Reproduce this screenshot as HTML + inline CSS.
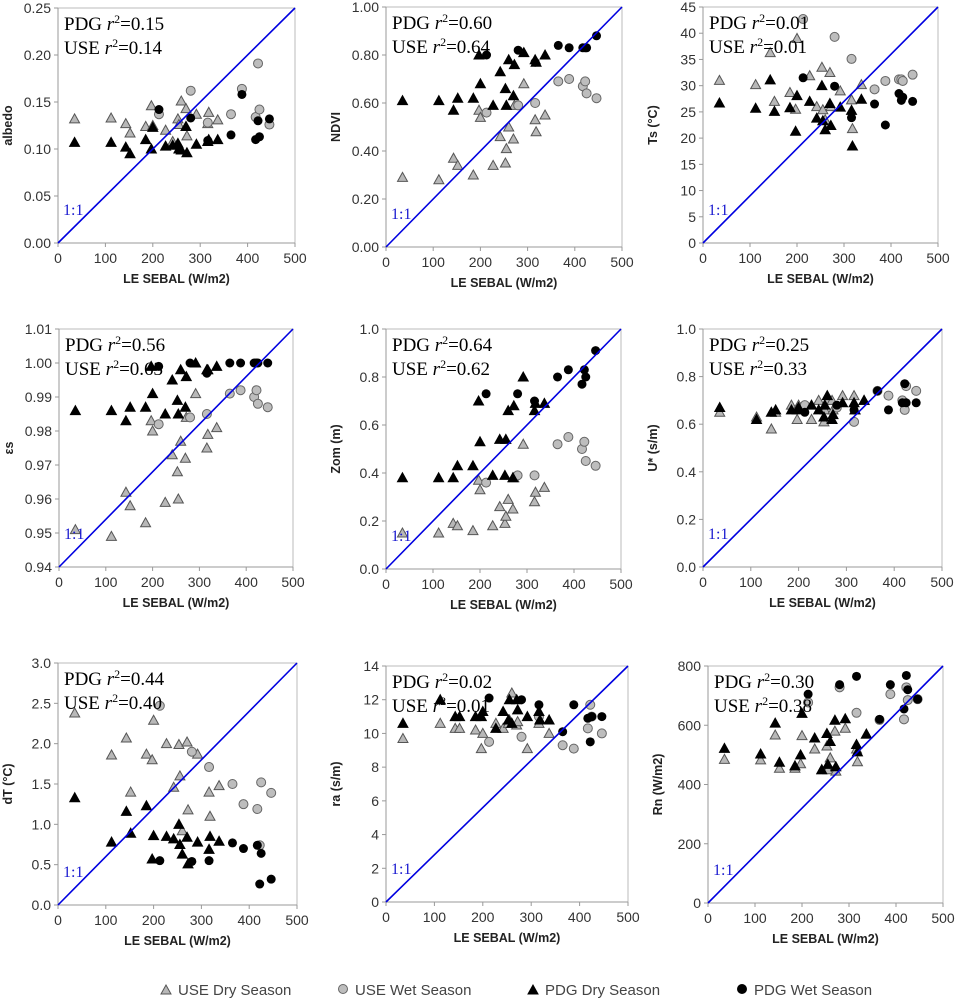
<!DOCTYPE html>
<html><head><meta charset="utf-8"><style>
body{margin:0;background:#fff;width:958px;height:1000px;overflow:hidden}
svg{display:block}
text{font-family:"Liberation Sans",sans-serif}
text.serif{font-family:"Liberation Serif",serif}
</style></head><body>
<svg id="fig" width="958" height="1000" viewBox="0 0 958 1000"></svg>
<script>
// Shared x (LE SEBAL) values
const xDry = [35,112,143,152,185,197,200,227,242,253,255,260,270,272,292,316,318,337];
const xWet = [213,280,316,365,388,417,422,425,446];
const xTicks = [0,100,200,300,400,500];

const albUseDry=[0.132,0.133,0.127,0.117,0.124,0.146,0.125,0.120,0.108,0.132,0.126,0.151,0.143,0.114,0.137,0.127,0.139,0.131];
const albUseWet=[0.137,0.162,0.128,0.137,0.164,0.134,0.191,0.142,0.126];
const albPdgDry=[0.107,0.107,0.102,0.095,0.110,0.100,0.123,0.103,0.104,0.106,0.100,0.099,0.124,0.096,0.105,0.108,0.110,0.110];
const albPdgWet=[0.142,0.133,0.109,0.115,0.158,0.110,0.130,0.113,0.132];

const ndviUseDry=[0.29,0.28,0.37,0.34,0.30,0.57,0.54,0.34,0.46,0.35,0.41,0.50,0.45,0.59,0.68,0.53,0.48,0.55];
const ndviUseWet=[0.56,0.59,0.60,0.69,0.70,0.67,0.69,0.64,0.62];
const ndviPdgDry=[0.61,0.61,0.57,0.62,0.62,0.80,0.68,0.59,0.73,0.66,0.59,0.78,0.63,0.76,0.81,0.78,0.77,0.80];
const ndviPdgWet=[0.80,0.82,0.77,0.84,0.83,0.83,0.83,0.83,0.88];

const tsUseDry=[31,30.2,36.3,27,28.7,25.5,39,31.9,26,33.5,25.4,23.5,32.5,26,29,27.3,21.8,30.2];
const tsUseWet=[42.7,39.3,35.1,29.3,30.9,31.2,31.2,30.9,32.1];
const tsPdgDry=[26.7,25.7,31.1,25.1,25.8,21.3,28.1,27,23.8,30,23.3,21.6,26.6,22.4,25.9,25.3,18.5,27.4];
const tsPdgWet=[31.5,29.9,23.9,26.5,22.5,28.5,27.2,27.8,27];

const esUseDry=[0.951,0.949,0.962,0.958,0.953,0.983,0.980,0.959,0.973,0.968,0.960,0.977,0.972,0.984,0.991,0.975,0.979,0.981];
const esUseWet=[0.982,0.984,0.985,0.991,0.992,0.990,0.992,0.988,0.987];
const esPdgDry=[0.986,0.986,0.983,0.987,0.987,0.999,0.991,0.985,0.995,0.989,0.985,0.998,0.987,0.996,1.0,0.998,0.998,0.999];
const esPdgWet=[0.999,1.0,0.997,1.0,1.0,1.0,1.0,1.0,1.0];

const zomUseDry=[0.15,0.15,0.19,0.18,0.16,0.37,0.33,0.18,0.26,0.19,0.22,0.29,0.25,0.38,0.52,0.28,0.32,0.34];
const zomUseWet=[0.36,0.39,0.39,0.52,0.55,0.50,0.53,0.45,0.43];
const zomPdgDry=[0.38,0.38,0.38,0.43,0.43,0.70,0.53,0.39,0.54,0.39,0.54,0.66,0.38,0.68,0.80,0.66,0.69,0.69];
const zomPdgWet=[0.73,0.73,0.70,0.80,0.83,0.77,0.83,0.80,0.91];

const uUseDry=[0.65,0.63,0.58,0.65,0.68,0.62,0.68,0.62,0.70,0.61,0.66,0.70,0.70,0.66,0.72,0.72,0.66,0.70];
const uUseWet=[0.68,0.67,0.61,0.74,0.72,0.70,0.66,0.76,0.74];
const uPdgDry=[0.67,0.62,0.65,0.66,0.66,0.66,0.67,0.68,0.66,0.63,0.68,0.72,0.62,0.64,0.69,0.69,0.66,0.70];
const uPdgWet=[0.65,0.68,0.66,0.74,0.66,0.69,0.77,0.69,0.69];

const dtUseDry=[2.38,1.86,2.07,1.40,1.87,1.80,2.29,2.0,1.46,1.99,1.60,0.92,2.02,1.18,1.87,1.40,1.10,1.48];
const dtUseWet=[2.47,1.90,1.71,1.50,1.25,1.19,0.74,1.52,1.39];
const dtPdgDry=[1.33,0.78,1.16,0.89,1.23,0.57,0.86,0.85,0.82,1.0,0.75,0.63,0.84,0.51,0.78,0.69,0.85,0.79];
const dtPdgWet=[0.55,0.54,0.55,0.77,0.70,0.74,0.26,0.64,0.32];

const raUseDry=[9.7,10.6,10.3,10.3,10.2,9.1,10.0,10.6,10.3,10.6,10.8,12.4,10.5,10.7,9.1,10.6,10.8,10.0];
const raUseWet=[9.5,9.8,11.0,9.3,9.1,10.3,11.7,11.0,10.0];
const raPdgDry=[10.6,12.0,11.0,11.0,11.0,11.0,11.3,10.3,11.3,10.8,12.0,10.6,12.0,11.4,11.0,11.3,10.8,10.8];
const raPdgWet=[12.1,12.0,11.7,10.1,11.7,10.9,9.5,11.0,11.0];

const rnUseDry=[485,483,567,455,455,470,565,520,450,530,450,490,580,445,590,520,477,570];
const rnUseWet=[677,728,642,618,705,620,728,685,688];
const rnPdgDry=[522,503,607,475,463,500,640,557,450,572,468,545,617,460,622,535,510,570];
const rnPdgWet=[705,737,765,620,737,655,768,720,688];

const panels=[
 {id:'albedo',yt:'albedo',ymin:0,ymax:0.25,step:0.05,dec:2,r:[58,295,8,243],p:'0.15',u:'0.14',s:[albUseDry,albUseWet,albPdgDry,albPdgWet]},
 {id:'ndvi',yt:'NDVI',ymin:0,ymax:1,step:0.2,dec:2,r:[386,622,7,247],p:'0.60',u:'0.64',s:[ndviUseDry,ndviUseWet,ndviPdgDry,ndviPdgWet]},
 {id:'ts',yt:'Ts (°C)',ymin:0,ymax:45,step:5,dec:0,r:[703,938,7,243],p:'0.01',u:'0.01',s:[tsUseDry,tsUseWet,tsPdgDry,tsPdgWet]},
 {id:'es',yt:'εs',ymin:0.94,ymax:1.01,step:0.01,dec:2,r:[59,293,329,567],p:'0.56',u:'0.63',s:[esUseDry,esUseWet,esPdgDry,esPdgWet]},
 {id:'zom',yt:'Zom (m)',ymin:0,ymax:1,step:0.2,dec:1,r:[386,621,329,569],p:'0.64',u:'0.62',s:[zomUseDry,zomUseWet,zomPdgDry,zomPdgWet]},
 {id:'ustar',yt:'U* (s/m)',ymin:0,ymax:1,step:0.2,dec:1,r:[703,942,329,567],p:'0.25',u:'0.33',s:[uUseDry,uUseWet,uPdgDry,uPdgWet]},
 {id:'dt',yt:'dT (°C)',ymin:0,ymax:3,step:0.5,dec:1,r:[58,297,663,905],p:'0.44',u:'0.40',s:[dtUseDry,dtUseWet,dtPdgDry,dtPdgWet]},
 {id:'ra',yt:'ra (s/m)',ymin:0,ymax:14,step:2,dec:0,r:[386,628,666,902],p:'0.02',u:'0.01',s:[raUseDry,raUseWet,raPdgDry,raPdgWet]},
 {id:'rn',yt:'Rn (W/m2)',ymin:0,ymax:800,step:200,dec:0,r:[708,943,666,903],p:'0.30',u:'0.38',s:[rnUseDry,rnUseWet,rnPdgDry,rnPdgWet]}
];
const NS='http://www.w3.org/2000/svg';
const svg=document.getElementById('fig');
function mk(t,a,parent){const e=document.createElementNS(NS,t);for(const k in a)e.setAttribute(k,a[k]);(parent||svg).appendChild(e);return e;}
function tri(g,cx,cy,fill,stroke){return mk('polygon',{points:`${cx},${cy-5} ${cx-5},${cy+4} ${cx+5},${cy+4}`,fill:fill,stroke:stroke,'stroke-width':1},g);}

panels.forEach(P=>{
  const [L,R,T,B]=P.r;
  const sx=v=>L+(v-0)/500*(R-L);
  const sy=v=>B-(v-P.ymin)/(P.ymax-P.ymin)*(B-T);
  const g=mk('g',{});
  
  
  const box=mk('rect',{x:L,y:T,width:R-L,height:B-T,fill:'none',stroke:'#bbb','stroke-width':1},g);
  
  
  mk('line',{x1:L,y1:T,x2:L,y2:B,stroke:'#999'},g);
  mk('line',{x1:L,y1:B,x2:R,y2:B,stroke:'#999'},g);
  const n=Math.round((P.ymax-P.ymin)/P.step);
  for(let i=0;i<=n;i++){
    const v=P.ymin+i*P.step;const y=sy(v);
    mk('line',{x1:L-4,y1:y,x2:L,y2:y,stroke:'#999'},g);
    const t=mk('text',{x:L-7,y:y+5,'text-anchor':'end','font-size':14,fill:'#333'},g);
    t.textContent=v.toFixed(P.dec);
    
    
  }
  xTicks.forEach(v=>{
    const x=sx(v);
    mk('line',{x1:x,y1:B,x2:x,y2:B+4,stroke:'#999'},g);
    const t=mk('text',{x:x,y:B+20,'text-anchor':'middle','font-size':14,fill:'#333'},g);
    t.textContent=v;
    
    
  });
  const xt=mk('text',{x:(L+R)/2,y:B+40,'text-anchor':'middle','font-size':12.5,'font-weight':'bold',fill:'#222'},g);
  xt.textContent='LE SEBAL (W/m2)';
  
  
  const yx=L-46,yc=(T+B)/2;
  const yt=mk('text',{x:yx,y:yc,'text-anchor':'middle','font-size':12.5,'font-weight':'bold',fill:'#222',transform:`rotate(-90 ${yx} ${yc})`},g);
  yt.textContent=P.yt;
  
  
  const [ud,uw,pd,pw]=P.s;
  ud.forEach((v,i)=>{const m=tri(g,sx(xDry[i]),sy(v),'#b8b8b8','#555');
    
    });
  uw.forEach((v,i)=>{const m=mk('circle',{cx:sx(xWet[i]),cy:sy(v),r:4.5,fill:'#bdbdbd',stroke:'#666'},g);
    
    });
  pd.forEach((v,i)=>{const m=tri(g,sx(xDry[i]),sy(v),'#000','#000');
    
    });
  pw.forEach((v,i)=>{const m=mk('circle',{cx:sx(xWet[i]),cy:sy(v),r:4.5,fill:'#000'},g);
    
    });
  const ln=mk('line',{x1:L,y1:B,x2:R,y2:T,stroke:'#0000e0','stroke-width':1.6},g);
  
  
  const ll=mk('text',{x:L+5,y:B-28,'font-size':16,fill:'#1a1ad0','class':'serif'},g);
  ll.textContent='1:1';
  
  
  [['PDG',P.p,22],['USE',P.u,46]].forEach(a=>{
    const t=mk('text',{x:L+6,y:T+a[2],'font-size':19,fill:'#000','class':'serif'},g);
    t.innerHTML=a[0]+' <tspan font-style="italic">r</tspan><tspan dy="-7" font-size="12">2</tspan><tspan dy="7">='+a[1]+'</tspan>';
    
    
  });
});
const lg=mk('g',{});


const items=[[166,'tri','#b8b8b8','#555','USE Dry Season'],[343,'circ','#bdbdbd','#666','USE Wet Season'],[533,'tri','#000','#000','PDG Dry Season'],[742,'circ','#000','#000','PDG Wet Season']];
items.forEach(it=>{
  const ig=mk('g',{},lg);
  
  
  if(it[1]=='tri') tri(ig,it[0],990,it[2],it[3]); else mk('circle',{cx:it[0],cy:989,r:4.5,fill:it[2],stroke:it[3]},ig);
  const t=mk('text',{x:it[0]+12,y:995,'font-size':15,fill:'#444'},ig);
  t.textContent=it[4];
});
</script>
</body></html>
